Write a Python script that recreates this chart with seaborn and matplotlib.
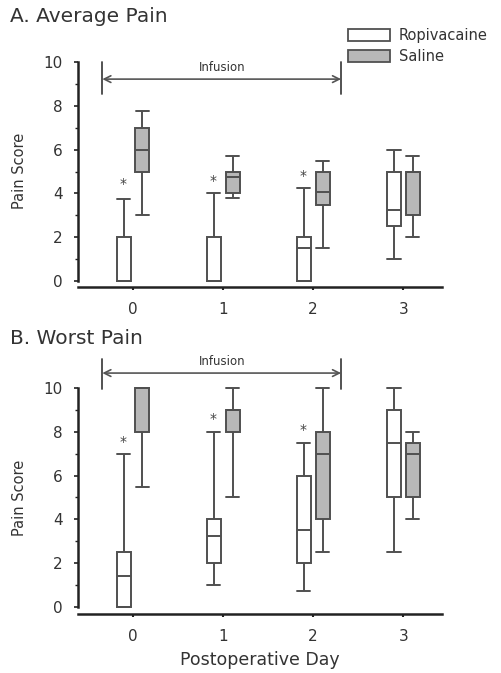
import numpy as np
import pandas as pd
import matplotlib
matplotlib.use("Agg")
import matplotlib.pyplot as plt
import seaborn as sns
from matplotlib.patches import Patch

## ~ data
days = ["0", "1", "2", "3"]
groups = ["Ropivacaine", "Saline"]

# five-number summaries per day: min, q1, median, q3, max
avg_ropi = [[0, 0, 0, 2.0, 3.75], [0, 0, 0, 2.0, 4.0],
            [0, 0, 1.5, 2.0, 4.25], [1.0, 2.5, 3.25, 5.0, 6.0]]
avg_saline = [[3.0, 5.0, 6.0, 7.0, 7.75], [3.8, 4.0, 4.75, 5.0, 5.7],
              [1.5, 3.45, 4.05, 5.0, 5.5], [2.0, 3.0, 5.0, 5.0, 5.7]]
worst_ropi = [[0, 0, 1.4, 2.5, 7.0], [1.0, 2.0, 3.25, 4.0, 8.0],
              [0.75, 2.0, 3.5, 6.0, 7.5], [2.5, 5.0, 7.5, 9.0, 10.0]]
worst_saline = [[5.5, 8.0, 10.0, 10.0, 10.0], [5.0, 8.0, 9.0, 9.0, 10.0],
                [2.5, 4.0, 7.0, 8.0, 10.0], [4.0, 5.0, 7.0, 7.5, 8.0]]

# asterisk heights (significance markers over ropivacaine boxes, days 0-2)
star_avg = [4.45, 4.55, 4.8]
star_worst = [7.55, 8.6, 8.1]

infusion_span = [-0.34, 2.31]

pal = {"Ropivacaine": "white", "Saline": "#b8b8b8"}
edge = "#505050"
txt = "#333333"

sns.set_style("ticks")
plt.rcParams['font.family'] = ['DejaVu Sans']


def long_df(ropi, saline):
    rows = []
    for d, r, s in zip(days, ropi, saline):
        for v in r:
            rows.append((d, "Ropivacaine", v))
        for v in s:
            rows.append((d, "Saline", v))
    return pd.DataFrame(rows, columns=["day", "group", "score"])


def draw_panel(ax, ropi, saline, stars, ymin, arrow_y, bar_lo, bar_hi, lab_y):
    df = long_df(ropi, saline)
    sns.boxplot(data=df, x="day", y="score", hue="group", order=days,
                hue_order=groups, palette=pal, saturation=1, width=0.42,
                gap=0.26, whis=(0, 100), linecolor=edge, linewidth=1.4,
                capwidths=0.15, legend=False, ax=ax)
    ax.set_xlim(-0.61, 3.43)
    ax.set_ylim(ymin, 10.3)
    ax.set_yticks([0, 2, 4, 6, 8, 10])
    ax.set_yticks([1, 3, 5, 7, 9], minor=True)
    sns.despine(ax=ax)
    ax.spines['left'].set_bounds(0, 10)
    for sp in ['left', 'bottom']:
        ax.spines[sp].set_linewidth(1.8)
        ax.spines[sp].set_color("#222222")
    ax.tick_params(axis='y', which='major', length=3, width=1.2, pad=8,
                   labelsize=11, labelcolor=txt, color="#222222")
    ax.tick_params(axis='y', which='minor', length=2, width=1.0, color="#222222")
    ax.tick_params(axis='x', length=2.5, width=1.5, pad=8, labelsize=11,
                   labelcolor=txt, color="#222222")
    ax.set_xlabel("")
    ax.set_ylabel("Pain Score", fontsize=10.5, color=txt)
    ax.yaxis.set_label_coords(-0.14, 0.5)

    for i, h in enumerate(stars):
        ax.text(i - 0.11, h, "*", ha="center", va="center", fontsize=10, color="#444444")

    # infusion period arrow
    ax.annotate("", xy=(infusion_span[1], arrow_y), xytext=(infusion_span[0], arrow_y),
                arrowprops=dict(arrowstyle="<->", color="#555555", lw=1.2,
                                shrinkA=0, shrinkB=0, mutation_scale=12),
                annotation_clip=False)
    for xb in infusion_span:
        ax.plot([xb, xb], [bar_lo, bar_hi], color="#444444", lw=1.3, clip_on=False)
    ax.text(np.mean(infusion_span), lab_y, "Infusion", ha="center", va="center",
            fontsize=8.5, color=txt)


fig = plt.figure(figsize=(5.01, 6.73), dpi=100)
ax1 = fig.add_axes([0.1557, 0.5736, 0.7265, 0.344])
ax2 = fig.add_axes([0.1557, 0.0877, 0.7265, 0.3456])

draw_panel(ax1, avg_ropi, avg_saline, star_avg, -0.27, 9.22, 8.55, 10.0, 9.77)
draw_panel(ax2, worst_ropi, worst_saline, star_worst, -0.32, 10.68, 9.95, 11.3, 11.19)

ax2.set_xlabel("Postoperative Day", fontsize=12.5, color=txt, labelpad=5)

fig.text(10 / 501, 1 - 16 / 673, "A. Average Pain", va="center", ha="left",
         fontsize=14.5, color=txt)
fig.text(10 / 501, 1 - 338 / 673, "B. Worst Pain", va="center", ha="left",
         fontsize=14.5, color=txt)

handles = [Patch(facecolor=pal[g], edgecolor=edge, linewidth=1.3, label=g) for g in groups]
fig.legend(handles=handles, loc="upper left", bbox_to_anchor=(348 / 501, 1 - 28 / 673),
           frameon=False, fontsize=10.5, handlelength=2.9, handleheight=0.95,
           labelspacing=0.4, handletextpad=0.6, borderaxespad=0, borderpad=0,
           labelcolor=txt)

fig.savefig("out.png", dpi=100)
